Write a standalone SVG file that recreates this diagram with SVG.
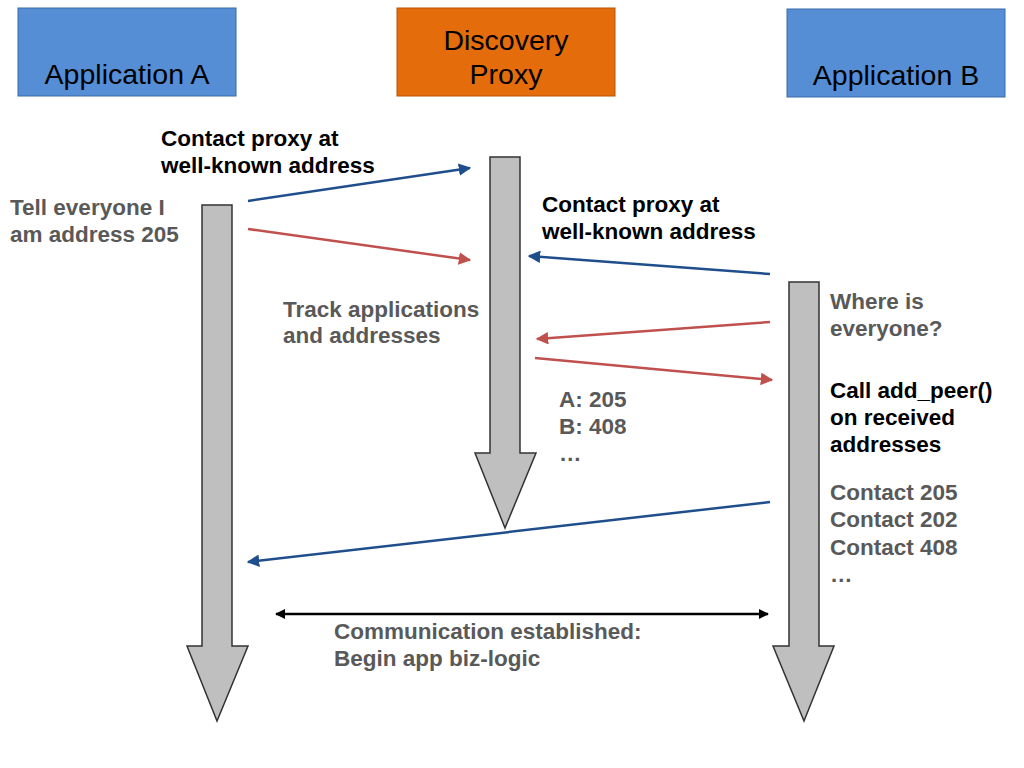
<svg xmlns="http://www.w3.org/2000/svg" width="1024" height="768" viewBox="0 0 1024 768">
<style>
.box{stroke:#3a6aa8;stroke-width:1}
.title{font-family:"Liberation Sans",Arial,sans-serif;font-size:28.5px;fill:#000;text-anchor:middle}
.lbl{font-family:"Liberation Sans",Arial,sans-serif;font-size:22.5px;font-weight:bold}
.blk{fill:#000}
.gry{fill:#595959}
.life{fill:#bfbfbf;stroke:#333;stroke-width:1.5}
.blue{stroke:#1f4e8c;stroke-width:2.5;fill:none}
.red{stroke:#c0504d;stroke-width:2.5;fill:none}
.dbl{stroke:#000;stroke-width:2.5;fill:none}
</style>
<defs>
<marker id="ab" viewBox="0 0 10 10" refX="9" refY="5" markerWidth="5" markerHeight="5" orient="auto" markerUnits="strokeWidth"><path d="M0,0 L10,5 L0,10 z" fill="#1f4e8c"/></marker>
<marker id="ar" viewBox="0 0 10 10" refX="9" refY="5" markerWidth="5" markerHeight="5" orient="auto" markerUnits="strokeWidth"><path d="M0,0 L10,5 L0,10 z" fill="#c0504d"/></marker>
<marker id="ak" viewBox="0 0 10 10" refX="9" refY="5" markerWidth="4" markerHeight="4" orient="auto-start-reverse" markerUnits="strokeWidth"><path d="M0,0 L10,5 L0,10 z" fill="#000"/></marker>
</defs>
<rect width="1024" height="768" fill="#fff"/>

<g id="appA">
<rect x="18" y="8" width="218" height="88" fill="#558ed5" class="box"/>
<text x="127" y="84" class="title">Application A</text>
</g>
<g id="proxy">
<rect x="397" y="8" width="218" height="88" fill="#e46c0a" stroke="#b35408" stroke-width="1"/>
<text x="506" y="50" class="title">Discovery</text>
<text x="506" y="84" class="title">Proxy</text>
</g>
<g id="appB">
<rect x="787" y="9" width="218" height="88" fill="#558ed5" class="box"/>
<text x="896" y="85" class="title">Application B</text>
</g>

<g id="lifelineA">
<polygon class="life" points="202,205 232,205 232,646 248,646 217,721 187,646 202,646"/>
</g>
<g id="lifelineProxy">
<polygon class="life" points="490,157 520,157 520,453 536,453 505,528 475,453 490,453"/>
</g>
<g id="lifelineB">
<polygon class="life" points="789,282 819,282 819,646 834,646 804,721 773,646 789,646"/>
</g>

<g id="connectors">
<line class="blue" x1="248" y1="201" x2="470" y2="168" marker-end="url(#ab)"/>
<line class="red" x1="248" y1="229" x2="470" y2="260" marker-end="url(#ar)"/>
<line class="blue" x1="770" y1="274" x2="529" y2="256" marker-end="url(#ab)"/>
<line class="red" x1="770" y1="322" x2="537" y2="339" marker-end="url(#ar)"/>
<line class="red" x1="535" y1="358" x2="772" y2="380" marker-end="url(#ar)"/>
<line class="blue" x1="770" y1="502" x2="248" y2="562" marker-end="url(#ab)"/>
<line class="dbl" x1="276" y1="614" x2="768" y2="614" marker-start="url(#ak)" marker-end="url(#ak)"/>
</g>

<g id="labels">
<text class="lbl blk" x="161" y="146">Contact proxy at</text>
<text class="lbl blk" x="161" y="173">well-known address</text>
<text class="lbl gry" x="10" y="215">Tell everyone I</text>
<text class="lbl gry" x="10" y="242">am address 205</text>
<text class="lbl blk" x="542" y="212">Contact proxy at</text>
<text class="lbl blk" x="542" y="239">well-known address</text>
<text class="lbl gry" x="283" y="317">Track applications</text>
<text class="lbl gry" x="283" y="343">and addresses</text>
<text class="lbl gry" x="830" y="309">Where is</text>
<text class="lbl gry" x="830" y="336">everyone?</text>
<text class="lbl blk" x="830" y="398">Call add_peer()</text>
<text class="lbl blk" x="830" y="425">on received</text>
<text class="lbl blk" x="830" y="452">addresses</text>
<text class="lbl gry" x="559" y="407">A: 205</text>
<text class="lbl gry" x="559" y="434">B: 408</text>
<text class="lbl gry" x="559" y="461">…</text>
<text class="lbl gry" x="830" y="500">Contact 205</text>
<text class="lbl gry" x="830" y="527">Contact 202</text>
<text class="lbl gry" x="830" y="555">Contact 408</text>
<text class="lbl gry" x="830" y="582">…</text>
<text class="lbl gry" x="334" y="639">Communication established:</text>
<text class="lbl gry" x="334" y="666">Begin app biz-logic</text>
</g>
</svg>
